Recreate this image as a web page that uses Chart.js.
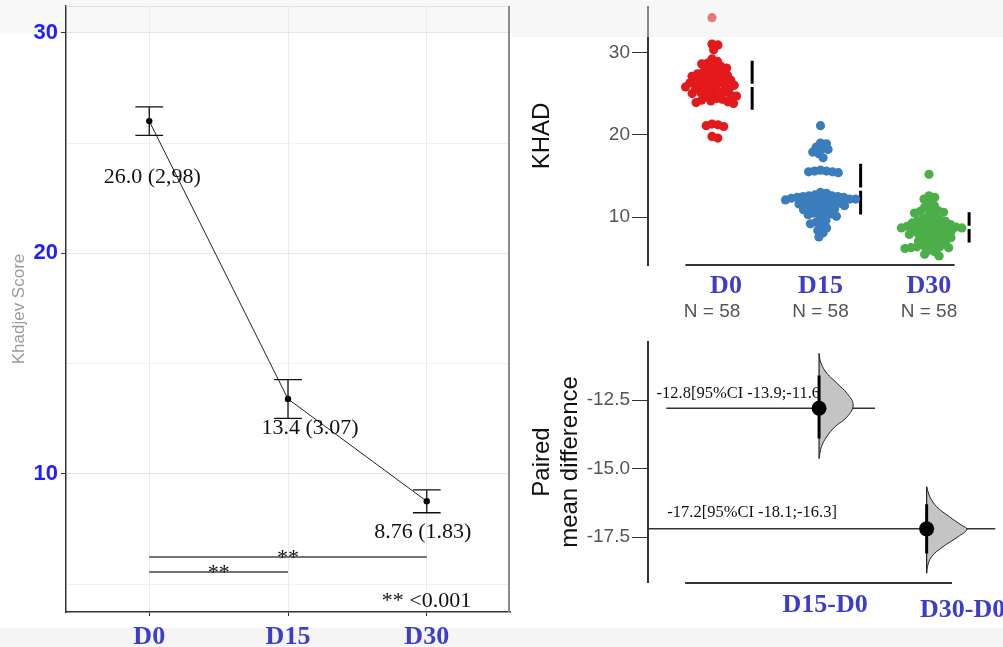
<!DOCTYPE html>
<html>
<head>
<meta charset="utf-8">
<title>KHAD</title>
<script src="https://cdn.jsdelivr.net/npm/chart.js@4.4.1/dist/chart.umd.min.js"></script>
<style>
html, body { margin: 0; padding: 0; background: #fff; }
#wrap { position: relative; width: 1003px; height: 647px; overflow: hidden; background: #fff; }
#wrap canvas { position: absolute; }
.band { position: absolute; }
</style>
</head>
<body>
<div id="wrap">
  <div class="band" style="left:0;top:0;width:512px;height:33px;background:#f8f8f8"></div>
  <div class="band" style="left:0;top:628px;width:1003px;height:19px;background:#f5f5f5"></div>
  <canvas id="trend" style="left:0;top:0" width="514" height="647"></canvas>
  <canvas id="swarm" style="left:520px;top:0" width="483" height="330"></canvas>
  <canvas id="diff" style="left:520px;top:330px" width="483" height="317"></canvas>
  <div class="band" style="left:512px;top:0;width:491px;height:37px;background:rgba(238,238,238,0.45)"></div>
</div>
<script>
// visits
var days = ['D0', 'D15', 'D30'];
var meanScore = [26.0, 13.4, 8.76];
var sdScore = [2.98, 3.07, 1.83];
var ciHalf = [0.65, 0.88, 0.52];
var meanLabels = ['26.0 (2,98)', '13.4 (3.07)', '8.76 (1.83)'];
var scoreTicks = [5, 10, 15, 20, 25, 30];

// significance bars: [from, to] visit index and height
var sigPairs = [[0, 2], [0, 1]];
var sigLevel = [6.23, 5.55];
var sigNote = '** <0.001';

// individual KHAD scores per visit (N = 58 each)
var khadD0 = [34.2, 30.9, 31.0, 30.3, 28.9, 29.2, 28.4, 27.6, 28.7, 27.9, 26.3, 25.1, 27.2, 24.6,
  26.8, 25.7, 28.1, 24.2, 26.5, 25.9, 27.4, 24.9, 26.1, 25.4, 27.8, 23.9, 26.9, 25.2, 24.4, 27.1,
  25.8, 26.6, 24.1, 28.3, 25.5, 26.2, 23.8, 27.5, 24.7, 26.0, 25.0, 27.0, 24.3, 26.7, 25.6, 28.6,
  24.8, 26.4, 25.3, 27.3, 24.0, 26.0, 21.3, 21.1, 21.0, 21.2, 19.8, 19.6];
var khadD15 = [21.1, 19.0, 18.9, 18.5, 18.3, 18.2, 17.9, 17.7, 17.2, 15.7, 15.6, 15.6, 15.5, 15.5,
  15.4, 13.0, 12.9, 12.7, 12.6, 12.6, 12.5, 12.5, 12.4, 12.4, 12.3, 12.3, 12.2, 12.2, 12.1, 12.0,
  11.9, 11.9, 11.8, 11.7, 11.7, 11.6, 11.5, 11.4, 11.3, 11.2, 11.1, 11.0, 10.9, 10.8, 10.6, 10.5,
  10.4, 10.3, 10.1, 9.9, 9.6, 9.4, 9.2, 9.0, 8.7, 8.4, 8.1, 7.6];
var khadD30 = [15.2, 12.6, 12.4, 12.2, 11.7, 11.4, 11.2, 10.9, 10.8, 10.7, 10.6, 10.5, 10.2, 10.0,
  9.8, 9.7, 9.6, 9.5, 9.4, 9.3, 9.2, 9.1, 9.0, 8.9, 8.9, 8.8, 8.8, 8.7, 8.7, 8.6, 8.6, 8.5, 8.4,
  8.3, 8.2, 8.1, 8.0, 7.9, 7.8, 7.7, 7.6, 7.5, 7.4, 7.3, 7.1, 7.0, 6.9, 6.6, 6.5, 6.4, 6.4, 6.3,
  6.3, 6.2, 6.0, 5.8, 5.5, 5.3];
var khadTicks = [10, 20, 30];
var groupN = ['N = 58', 'N = 58', 'N = 58'];

// paired mean differences vs D0
var contrasts = ['D15-D0', 'D30-D0'];
var contrastPos = [1, 2];
var diffMean = [-12.8, -17.2];
var diffCiLow = [-13.9, -18.1];
var diffCiHigh = [-11.6, -16.3];
var diffTicks = [-17.5, -15, -12.5];
// bootstrap distribution outline: offsets from the mean and relative density
var violinOffsets = [
  [2.0, 1.64, 1.27, 0.91, 0.54, 0.12, -0.31, -0.67, -1.04, -1.40, -1.83],
  [1.54, 1.17, 0.81, 0.44, 0.14, -0.02, -0.29, -0.65, -1.02, -1.38, -1.62]
];
var violinDensity = [
  [0, 0.05, 0.2, 0.45, 0.7, 0.85, 0.7, 0.4, 0.19, 0.06, 0],
  [0, 0.08, 0.25, 0.57, 0.86, 1.0, 0.78, 0.41, 0.12, 0.02, 0]
];

// styling
var serif = '"Liberation Serif", "Times New Roman", serif';
var sans = '"Liberation Sans", Arial, sans-serif';
var dayBlue = '#3d3dcc';
var groupColors = ['#e3191c', '#3a7dbc', '#4cae48'];
var capHalf = 0.1;
var labelDx = [3, 22, -4];
var labelDy = [56, 29, 31];
var xMin = -0.59, xMax = 2.64;
var axisFrom = -0.245, axisTo = 2.236;
var sdOffset = 0.37, sdGap = 0.2;
var violinScale = 0.373;
var refFrom = [-0.42, xMin], refTo = [1.52, xMax];
var ciTextX = [-0.51, -0.41], ciTextDy = [-15, -16];
var swarmLabelDx = [14, 0, 0];
var diffLabelDx = [6, 36], diffLabelDy = [23, 28];

Chart.defaults.font.family = sans;
Chart.defaults.animation = false;
Chart.defaults.plugins.legend.display = false;
Chart.defaults.plugins.tooltip.enabled = false;

// keep the plot area exactly where the box says, no room for edge labels
function fixBox(size) {
  return function (ax) {
    if (ax.isHorizontal()) ax.height = size; else ax.width = size;
    ax.paddingTop = ax.paddingBottom = ax.paddingLeft = ax.paddingRight = 0;
  };
}

// ---------- left: mean trend ----------
var trendExtras = {
  id: 'trendExtras',
  afterDatasetsDraw: function (chart) {
    var ctx = chart.ctx, a = chart.chartArea, x = chart.scales.x, y = chart.scales.y;
    ctx.save();
    ctx.strokeStyle = '#111';
    ctx.lineWidth = 1.3;
    meanScore.forEach(function (m, i) {
      var px = x.getPixelForValue(i);
      var top = y.getPixelForValue(m + ciHalf[i]);
      var bot = y.getPixelForValue(m - ciHalf[i]);
      var l = x.getPixelForValue(i - capHalf), r = x.getPixelForValue(i + capHalf);
      ctx.beginPath();
      ctx.moveTo(px, top); ctx.lineTo(px, bot);
      ctx.moveTo(l, top); ctx.lineTo(r, top);
      ctx.moveTo(l, bot); ctx.lineTo(r, bot);
      ctx.stroke();
    });
    ctx.fillStyle = '#111';
    ctx.font = '22px ' + serif;
    ctx.textAlign = 'center';
    ctx.textBaseline = 'middle';
    meanScore.forEach(function (m, i) {
      ctx.fillText(meanLabels[i], x.getPixelForValue(i) + labelDx[i], y.getPixelForValue(m) + labelDy[i]);
    });
    ctx.textBaseline = 'alphabetic';
    sigPairs.forEach(function (p, i) {
      var mid = (p[0] + p[1]) / 2;
      ctx.fillText('**', x.getPixelForValue(mid), y.getPixelForValue(sigLevel[i]) + 7);
    });
    ctx.textAlign = 'right';
    ctx.fillText(sigNote, x.getPixelForValue(2.32), a.bottom - 5);
    // frame
    ctx.lineWidth = 2;
    ctx.strokeStyle = '#8a8a8a';
    ctx.beginPath();
    ctx.moveTo(a.right - 1, a.top); ctx.lineTo(a.right - 1, a.bottom);
    ctx.stroke();
    ctx.lineWidth = 1;
    ctx.strokeStyle = '#e2e2e2';
    ctx.beginPath();
    ctx.moveTo(a.left, a.top + 0.5); ctx.lineTo(a.right - 2, a.top + 0.5);
    ctx.stroke();
    ctx.restore();
  }
};

var trendSets = [{
  data: meanScore.map(function (v, i) { return { x: i, y: v }; }),
  showLine: true, borderColor: '#222', borderWidth: 1,
  pointRadius: 3.2, pointBackgroundColor: '#000', pointBorderWidth: 0
}];
sigPairs.forEach(function (p, i) {
  trendSets.push({
    data: [{ x: p[0], y: sigLevel[i] }, { x: p[1], y: sigLevel[i] }],
    showLine: true, borderColor: '#444', borderWidth: 1.5, pointRadius: 0
  });
});

new Chart(document.getElementById('trend'), {
  type: 'scatter',
  data: { datasets: trendSets },
  options: {
    responsive: false,
    layout: { padding: { top: 6, right: 1 } },
    scales: {
      x: {
        type: 'linear', min: -0.6, max: 2.6,
        afterBuildTicks: function (ax) { ax.ticks = days.map(function (d, i) { return { value: i }; }); },
        afterFit: fixBox(35),
        grid: { color: '#ebebeb', tickColor: '#333', tickLength: 4 },
        border: { color: '#333', width: 1.5 },
        ticks: {
          callback: function (v) { return days[v]; },
          font: { family: serif, size: 26, weight: 'bold' }, color: dayBlue, padding: 6, maxRotation: 0
        }
      },
      y: {
        min: 3.74, max: 31.22,
        afterBuildTicks: function (ax) { ax.ticks = scoreTicks.map(function (v) { return { value: v }; }); },
        afterFit: fixBox(66),
        grid: {
          color: function (c) { return c.tick && c.tick.value % 10 === 0 ? '#e6e6e6' : '#f0f0f0'; },
          tickColor: function (c) { return c.tick && c.tick.value % 10 === 0 ? '#333' : 'rgba(0,0,0,0)'; },
          tickLength: 5
        },
        border: { color: '#333', width: 1.5 },
        ticks: {
          callback: function (v) { return v % 10 === 0 ? v : ''; },
          font: { size: 22, weight: 'bold' }, color: '#1f1fff', padding: 3
        },
        title: { display: true, text: 'Khadjev Score', color: '#9a9a9a', font: { size: 17 }, padding: { top: 9 } }
      }
    }
  },
  plugins: [trendExtras]
});

// ---------- right top: swarm of individual scores ----------
function beeswarm(values, group, xs, ys, diam) {
  var placed = [];
  var out = new Array(values.length);
  var cx = xs.getPixelForValue(group);
  var order = values.map(function (v, i) { return i; })
    .sort(function (a, b) { return values[b] - values[a]; });
  order.forEach(function (i) {
    var py = ys.getPixelForValue(values[i]);
    var cands = [0];
    placed.forEach(function (p) {
      var dy = py - p.y;
      if (Math.abs(dy) < diam) {
        var dx = Math.sqrt(diam * diam - dy * dy);
        cands.push(p.x + dx, p.x - dx);
      }
    });
    cands.sort(function (a, b) { return Math.abs(a) - Math.abs(b); });
    var best = cands.find(function (c) {
      return placed.every(function (p) {
        return (p.x - c) * (p.x - c) + (p.y - py) * (p.y - py) >= diam * diam - 0.01;
      });
    });
    placed.push({ x: best, y: py });
    out[i] = { x: xs.getValueForPixel(cx + best), y: values[i] };
  });
  return out;
}

var swarmExtras = {
  id: 'swarmExtras',
  afterDraw: function (chart) {
    var ctx = chart.ctx, a = chart.chartArea, x = chart.scales.x;
    ctx.save();
    ctx.strokeStyle = '#333';
    ctx.lineWidth = 2;
    ctx.beginPath();
    ctx.moveTo(x.getPixelForValue(axisFrom), a.bottom);
    ctx.lineTo(x.getPixelForValue(axisTo), a.bottom);
    ctx.stroke();
    ctx.textAlign = 'center';
    ctx.textBaseline = 'middle';
    days.forEach(function (d, i) {
      var px = x.getPixelForValue(i);
      ctx.font = 'bold 26px ' + serif;
      ctx.fillStyle = dayBlue;
      ctx.fillText(d, px + swarmLabelDx[i], a.bottom + 21);
      ctx.font = '19px ' + sans;
      ctx.fillStyle = '#555';
      ctx.fillText(groupN[i], px, a.bottom + 47);
    });
    ctx.restore();
  }
};

var groups = [khadD0, khadD15, khadD30];
var swarmSets = groups.map(function (vals, g) {
  return {
    data: vals.map(function (v) { return { x: g, y: v }; }),
    pointRadius: 4.6, pointBackgroundColor: groupColors[g], pointBorderWidth: 0
  };
});
meanScore.forEach(function (m, g) {
  var gx = g + sdOffset;
  swarmSets.push({
    data: [{ x: gx, y: m + sdScore[g] }, { x: gx, y: m + sdGap }, { x: gx, y: null },
      { x: gx, y: m - sdGap }, { x: gx, y: m - sdScore[g] }],
    showLine: true, spanGaps: false, borderColor: '#000', borderWidth: 3,
    borderCapStyle: 'butt', pointRadius: 0
  });
});

var swarmChart = new Chart(document.getElementById('swarm'), {
  type: 'scatter',
  data: { datasets: swarmSets },
  options: {
    responsive: false,
    layout: { padding: { top: 7, bottom: 65 } },
    scales: {
      x: { type: 'linear', display: false, min: xMin, max: xMax },
      y: {
        min: 4.2, max: 35.5,
        afterBuildTicks: function (ax) { ax.ticks = khadTicks.map(function (v) { return { value: v }; }); },
        afterFit: fixBox(128),
        grid: { drawOnChartArea: false, tickLength: 16, tickColor: '#333' },
        border: { color: '#333', width: 2 },
        ticks: { font: { size: 19 }, color: '#555', padding: 2 },
        title: { display: true, text: 'KHAD', color: '#111', font: { size: 24 }, padding: { top: 8 } }
      }
    }
  },
  plugins: [swarmExtras]
});

groups.forEach(function (vals, g) {
  swarmChart.data.datasets[g].data = beeswarm(vals, g, swarmChart.scales.x, swarmChart.scales.y, 6);
});
swarmChart.update('none');

// ---------- right bottom: paired mean differences ----------
var diffExtras = {
  id: 'diffExtras',
  beforeDatasetsDraw: function (chart) {
    var ctx = chart.ctx, x = chart.scales.x, y = chart.scales.y;
    ctx.save();
    ctx.fillStyle = '#111';
    ctx.font = '16.5px ' + serif;
    ctx.textAlign = 'left';
    ctx.textBaseline = 'middle';
    diffMean.forEach(function (m, i) {
      var txt = m + '[95%CI ' + diffCiLow[i] + ';' + diffCiHigh[i] + ']';
      ctx.fillText(txt, x.getPixelForValue(ciTextX[i]), y.getPixelForValue(m) + ciTextDy[i]);
    });
    ctx.restore();
  },
  afterDraw: function (chart) {
    var ctx = chart.ctx, a = chart.chartArea, x = chart.scales.x;
    ctx.save();
    ctx.strokeStyle = '#333';
    ctx.lineWidth = 2;
    ctx.beginPath();
    ctx.moveTo(x.getPixelForValue(axisFrom), a.bottom + 1);
    ctx.lineTo(x.getPixelForValue(axisTo), a.bottom + 1);
    ctx.stroke();
    ctx.font = 'bold 26px ' + serif;
    ctx.fillStyle = dayBlue;
    ctx.textAlign = 'center';
    ctx.textBaseline = 'middle';
    contrasts.forEach(function (c, i) {
      ctx.fillText(c, x.getPixelForValue(contrastPos[i]) + diffLabelDx[i], a.bottom + diffLabelDy[i]);
    });
    ctx.restore();
  }
};

var diffSets = [{
  data: contrastPos.map(function (p, i) { return { x: p, y: diffMean[i] }; }),
  pointRadius: 7.5, pointBackgroundColor: '#000', pointBorderWidth: 0, order: 0
}];
contrastPos.forEach(function (p, i) {
  diffSets.push({
    data: [{ x: p, y: diffCiLow[i] }, { x: p, y: diffCiHigh[i] }],
    showLine: true, borderColor: '#000', borderWidth: 3, borderCapStyle: 'butt', pointRadius: 0, order: 1
  });
  var offs = violinOffsets[i];
  diffSets.push({
    data: [{ x: p, y: diffMean[i] + offs[0] }, { x: p, y: diffMean[i] + offs[offs.length - 1] }],
    showLine: true, borderColor: '#222', borderWidth: 1.2, pointRadius: 0, order: 2
  });
  diffSets.push({
    data: offs.map(function (o, k) { return { x: p + violinDensity[i][k] * violinScale, y: diffMean[i] + o }; }),
    showLine: true, fill: 'shape', backgroundColor: '#c4c4c4', borderColor: '#222', borderWidth: 1,
    tension: 0.4, pointRadius: 0, order: 3
  });
  diffSets.push({
    data: [{ x: refFrom[i], y: diffMean[i] }, { x: refTo[i], y: diffMean[i] }],
    showLine: true, borderColor: '#333', borderWidth: 1.5, pointRadius: 0, order: 4
  });
});

new Chart(document.getElementById('diff'), {
  type: 'scatter',
  data: { datasets: diffSets },
  options: {
    responsive: false,
    layout: { padding: { top: 12, bottom: 65 } },
    scales: {
      x: { type: 'linear', display: false, min: xMin, max: xMax },
      y: {
        min: -19.14, max: -10.38,
        afterBuildTicks: function (ax) { ax.ticks = diffTicks.map(function (v) { return { value: v }; }); },
        afterFit: fixBox(128),
        grid: { drawOnChartArea: false, tickLength: 16, tickColor: '#333' },
        border: { color: '#333', width: 2 },
        ticks: {
          callback: function (v) { return v.toFixed(1); },
          font: { size: 19 }, color: '#555', padding: 2
        },
        title: {
          display: true, text: ['Paired', 'mean difference'], color: '#111',
          font: { size: 24, lineHeight: 1.17 }, padding: { top: 8 }
        }
      }
    }
  },
  plugins: [diffExtras]
});
</script>
</body>
</html>
